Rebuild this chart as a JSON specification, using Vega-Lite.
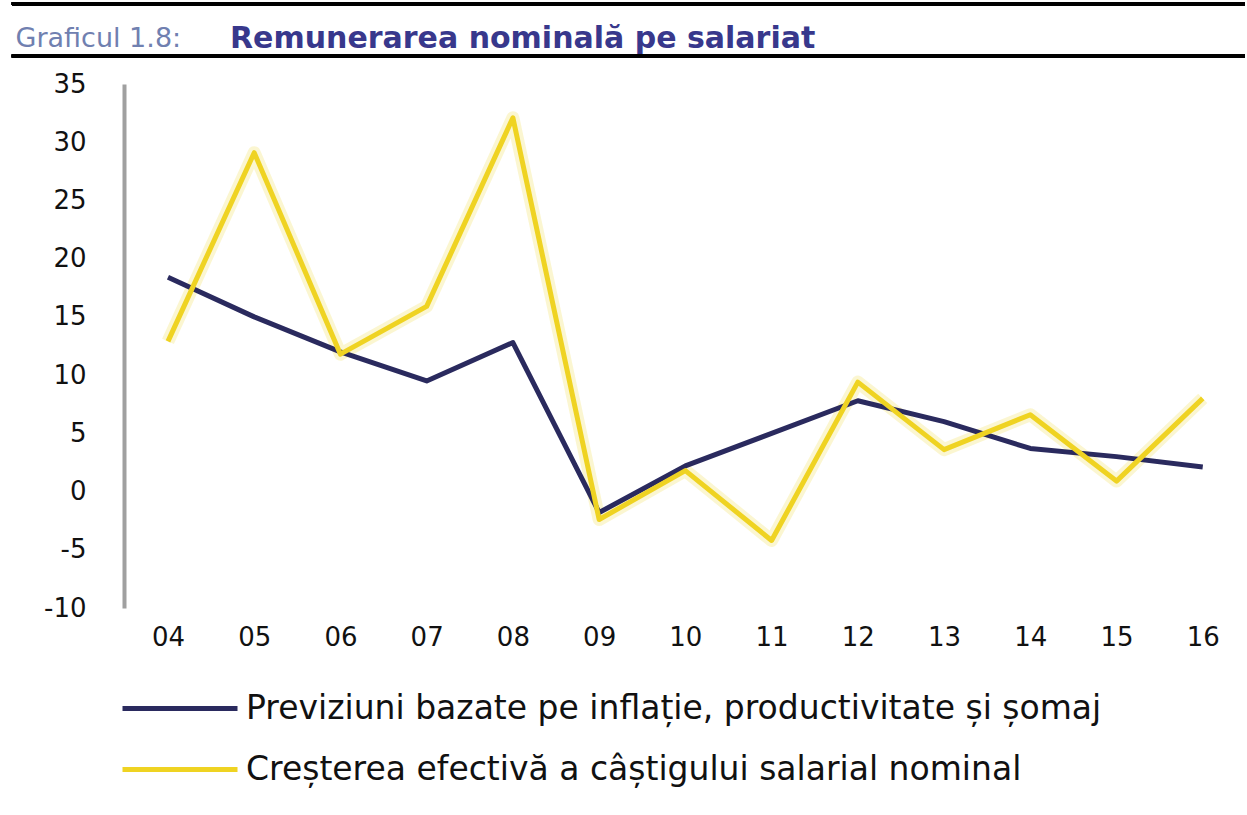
{
  "$schema": "https://vega.github.io/schema/vega-lite/v6.json",
  "width": 1121,
  "height": 524,
  "autosize": {"type": "none"},
  "padding": {"left": 124, "top": 84, "right": 2, "bottom": 207},
  "background": "white",
  "config": {"view": {"stroke": null}, "font": "DejaVu Sans"},
  "title": {
    "text": "Remunerarea nominală pe salariat",
    "anchor": "start",
    "frame": "group",
    "dx": 106,
    "offset": -52,
    "fontSize": 30,
    "fontWeight": "bold",
    "color": "#38388c"
  },
  "data": {
    "values": [
      {"year": 4, "series": "Previziuni bazate pe inflație, productivitate și șomaj", "value": 18.4},
      {"year": 5, "series": "Previziuni bazate pe inflație, productivitate și șomaj", "value": 15.0},
      {"year": 6, "series": "Previziuni bazate pe inflație, productivitate și șomaj", "value": 12.0},
      {"year": 7, "series": "Previziuni bazate pe inflație, productivitate și șomaj", "value": 9.5},
      {"year": 8, "series": "Previziuni bazate pe inflație, productivitate și șomaj", "value": 12.8},
      {"year": 9, "series": "Previziuni bazate pe inflație, productivitate și șomaj", "value": -1.8},
      {"year": 10, "series": "Previziuni bazate pe inflație, productivitate și șomaj", "value": 2.2},
      {"year": 11, "series": "Previziuni bazate pe inflație, productivitate și șomaj", "value": 5.0},
      {"year": 12, "series": "Previziuni bazate pe inflație, productivitate și șomaj", "value": 7.8},
      {"year": 13, "series": "Previziuni bazate pe inflație, productivitate și șomaj", "value": 6.0},
      {"year": 14, "series": "Previziuni bazate pe inflație, productivitate și șomaj", "value": 3.7},
      {"year": 15, "series": "Previziuni bazate pe inflație, productivitate și șomaj", "value": 3.0},
      {"year": 16, "series": "Previziuni bazate pe inflație, productivitate și șomaj", "value": 2.1},
      {"year": 4, "series": "Creșterea efectivă a câștigului salarial nominal", "value": 12.9},
      {"year": 5, "series": "Creșterea efectivă a câștigului salarial nominal", "value": 29.1},
      {"year": 6, "series": "Creșterea efectivă a câștigului salarial nominal", "value": 11.8},
      {"year": 7, "series": "Creșterea efectivă a câștigului salarial nominal", "value": 15.9},
      {"year": 8, "series": "Creșterea efectivă a câștigului salarial nominal", "value": 32.1},
      {"year": 9, "series": "Creșterea efectivă a câștigului salarial nominal", "value": -2.4},
      {"year": 10, "series": "Creșterea efectivă a câștigului salarial nominal", "value": 1.8},
      {"year": 11, "series": "Creșterea efectivă a câștigului salarial nominal", "value": -4.2},
      {"year": 12, "series": "Creșterea efectivă a câștigului salarial nominal", "value": 9.4},
      {"year": 13, "series": "Creșterea efectivă a câștigului salarial nominal", "value": 3.6},
      {"year": 14, "series": "Creșterea efectivă a câștigului salarial nominal", "value": 6.6},
      {"year": 15, "series": "Creșterea efectivă a câștigului salarial nominal", "value": 0.9},
      {"year": 16, "series": "Creșterea efectivă a câștigului salarial nominal", "value": 8.0}
    ]
  },
  "encoding": {
    "x": {
      "field": "year",
      "type": "quantitative",
      "scale": {"domain": [3.49, 16.49], "nice": false, "zero": false},
      "axis": {
        "title": null,
        "domain": false,
        "ticks": false,
        "grid": false,
        "values": [4, 5, 6, 7, 8, 9, 10, 11, 12, 13, 14, 15, 16],
        "labelExpr": "datum.value < 10 ? '0' + datum.value : '' + datum.value",
        "labelFontSize": 26,
        "labelColor": "#111111",
        "labelPadding": 16,
        "labelFlush": false
      }
    },
    "y": {
      "field": "value",
      "type": "quantitative",
      "scale": {"domain": [-10, 35], "nice": false},
      "axis": {
        "title": "Graficul 1.8:",
        "titleAngle": 0,
        "titleX": -109,
        "titleY": -38,
        "titleAlign": "left",
        "titleBaseline": "alphabetic",
        "titleFontSize": 27,
        "titleFontWeight": "normal",
        "titleColor": "#7080b0",
        "values": [-10, -5, 0, 5, 10, 15, 20, 25, 30, 35],
        "labelExpr": "replace(datum.label, '−', '-')",
        "domain": true,
        "domainColor": "#a0a0a0",
        "domainWidth": 4,
        "ticks": false,
        "grid": false,
        "labelFontSize": 26,
        "labelColor": "#111111",
        "labelPadding": 38
      }
    }
  },
  "layer": [
    {
      "mark": {"type": "rule", "color": "#000000", "strokeWidth": 3},
      "encoding": {
        "x": {"datum": 2.19},
        "x2": {"datum": 16.49},
        "y": {"datum": 37.4}
      }
    },
    {
      "mark": {"type": "rule", "color": "#000000", "strokeWidth": 3},
      "encoding": {
        "x": {"datum": 2.19},
        "x2": {"datum": 16.49},
        "y": {"datum": 41.9}
      }
    },
    {
      "mark": {"type": "rule", "color": "#9a9a9a", "strokeWidth": 2.5},
      "encoding": {"y": {"datum": 0}}
    },
    {
      "transform": [{"filter": "datum.series == 'Creșterea efectivă a câștigului salarial nominal'"}],
      "mark": {"type": "line", "color": "#f6ec9a", "strokeWidth": 13, "opacity": 0.45, "strokeJoin": "round"}
    },
    {
      "mark": {"type": "line", "strokeJoin": "round", "strokeWidth": 5},
      "encoding": {
        "color": {
          "field": "series",
          "type": "nominal",
          "sort": null,
          "scale": {
            "domain": ["Previziuni bazate pe inflație, productivitate și șomaj", "Creșterea efectivă a câștigului salarial nominal"],
            "range": ["#2a2a5e", "#efd322"]
          },
          "legend": {
            "title": null,
            "orient": "none",
            "legendX": -4,
            "legendY": 594,
            "symbolType": "stroke",
            "symbolSize": 13225,
            "symbolStrokeWidth": 5,
            "labelFontSize": 33,
            "labelColor": "#111111",
            "labelOffset": 6,
            "clipHeight": 61,
            "rowPadding": 0,
            "labelLimit": 1100
          }
        },
        "order": {"field": "series", "sort": "ascending"}
      }
    }
  ]
}
